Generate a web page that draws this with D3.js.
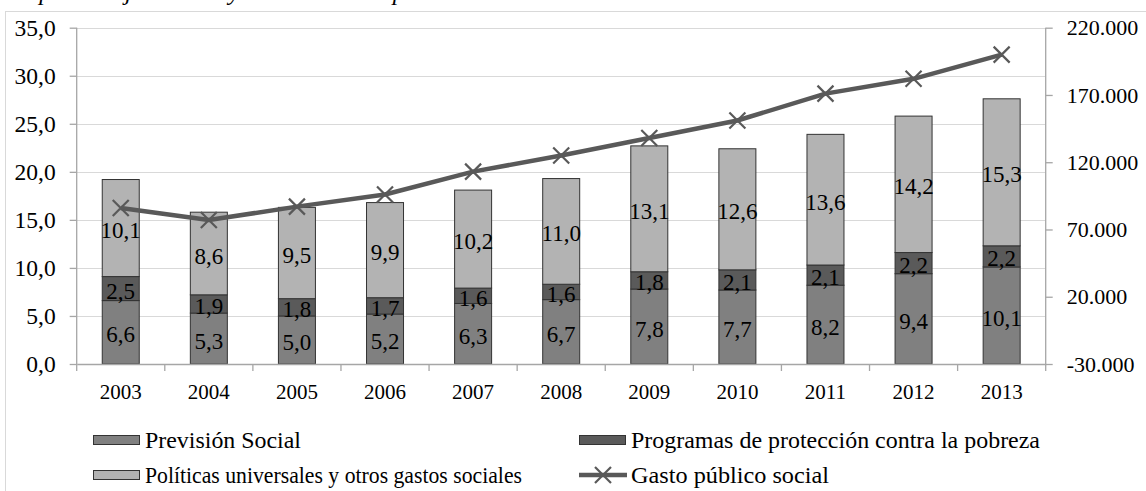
<!DOCTYPE html>
<html><head><meta charset="utf-8">
<script src="https://cdn.jsdelivr.net/npm/d3@7"></script>
<style>body{margin:0;background:#fff}svg{display:block}text{font-family:"Liberation Serif","Times New Roman",serif;fill:#000}</style>
</head><body><svg id="c" width="1146" height="491"></svg>
<script>
const years = ["2003","2004","2005","2006","2007","2008","2009","2010","2011","2012","2013"];
const prevision = [6.6,5.3,5.0,5.2,6.3,6.7,7.8,7.7,8.2,9.4,10.1];
const programas = [2.5,1.9,1.8,1.7,1.6,1.6,1.8,2.1,2.1,2.2,2.2];
const politicas = [10.1,8.6,9.5,9.9,10.2,11.0,13.1,12.6,13.6,14.2,15.3];
const gasto = [86000,77000,87000,96000,113000,125000,138000,151000,171000,182000,200000];
const leftTicks = [0,5,10,15,20,25,30,35];
const rightTicks = [-30000,20000,70000,120000,170000,220000];
const seriesNames = ["Previsión Social","Programas de protección contra la pobreza","Políticas universales y otros gastos sociales","Gasto público social"];
const colors = ["#808080","#5a5a5a","#b3b3b3"];
const lineColor = "#595959";

const svg = d3.select("#c");
const L = 76.7, R = 1045.7, T = 27.7, B = 364;
const x = d3.scaleBand().domain(years).range([L,R]).paddingInner(0.58).paddingOuter(0.29);
const y = d3.scaleLinear().domain([0,35]).range([B,T]);
const y2 = d3.scaleLinear().domain([-30000,220000]).range([B,T]);
const fmtL = d => d3.format(".1f")(d).replace(".",",");
const fmtR = d => d3.format(",")(d).replace(/,/g,".").replace("\u2212","-");

// title (cut off at top, as in the source)
svg.append("text").attr("x",6).attr("y",0).attr("font-style","italic").attr("font-size",23)
  .attr("textLength",525).attr("lengthAdjust","spacingAndGlyphs")
  .text("En porcentaje del PIB y en millones de pesos de 2013");
// frame
svg.append("rect").attr("x",5.5).attr("y",11.5).attr("width",1200).attr("height",600).attr("fill","none").attr("stroke","#d9d9d9");

// gridlines
svg.append("g").selectAll("line").data(leftTicks.filter(d=>d>0)).join("line")
  .attr("x1",L).attr("x2",R).attr("y1",d=>Math.round(y(d))+0.5).attr("y2",d=>Math.round(y(d))+0.5)
  .attr("stroke","#d9d9d9");

// stacked bars
const rows = years.map((yr,i)=>({year:yr, prevision:prevision[i], programas:programas[i], politicas:politicas[i]}));
const keys = ["prevision","programas","politicas"];
const stack = d3.stack().keys(keys)(rows);
stack.forEach((s,k)=>{
  svg.append("g").selectAll("rect").data(s).join("rect")
    .attr("x",d=>x(d.data.year)).attr("width",x.bandwidth())
    .attr("y",d=>y(d[1])).attr("height",d=>y(d[0])-y(d[1]))
    .attr("fill",colors[k]).attr("stroke","#333").attr("stroke-width",1);
});

// axes
const axL = d3.axisLeft(y).tickValues(leftTicks).tickFormat(fmtL).tickSize(7).tickPadding(14);
const gL = svg.append("g").attr("transform",`translate(${L},0)`).call(axL);
const axR = d3.axisRight(y2).tickValues(rightTicks).tickFormat(fmtR).tickSize(7).tickPadding(14);
const gR = svg.append("g").attr("transform",`translate(${R},0)`).call(axR);
const axB = d3.axisBottom(x).tickSize(0).tickPadding(20);
const gB = svg.append("g").attr("transform",`translate(0,${B})`).call(axB);
[gL,gR,gB].forEach(g=>{
  g.select(".domain").attr("stroke","#a6a6a6").attr("stroke-width",1.3);
  g.selectAll(".tick line").attr("stroke","#a6a6a6").attr("stroke-width",1.3);
  g.selectAll("text").attr("font-family",'"Liberation Serif",serif').attr("fill","#000");
});
gL.selectAll("text").attr("font-size",23.5);
gR.selectAll("text").attr("font-size",22);
gB.selectAll("text").attr("font-size",21);
gL.select(".domain").attr("d",`M0,${T}V${B}`);
gR.select(".domain").attr("d",`M0,${T}V${B}`);
// category boundary ticks
const bounds = years.slice(1).map(yr=>x(yr)-x.step()*x.paddingInner()/2);
svg.append("g").selectAll("line").data(bounds.concat([L,R])).join("line")
  .attr("x1",d=>d).attr("x2",d=>d).attr("y1",B).attr("y2",B+7)
  .attr("stroke","#a6a6a6").attr("stroke-width",1.3);

// data labels
stack.forEach((s,k)=>{
  svg.append("g").selectAll("text").data(s).join("text")
    .attr("x",d=>x(d.data.year)+x.bandwidth()/2)
    .attr("y",d=>(y(d[0])+y(d[1]))/2+2)
    .attr("dy","0.35em").attr("text-anchor","middle").attr("font-size",23)
    .text(d=>fmtL(d.data[keys[k]]));
});

// line
const cx = (d,i)=>x(years[i])+x.bandwidth()/2;
svg.append("path").datum(gasto)
  .attr("d",d3.line().x(cx).y(d=>y2(d)))
  .attr("fill","none").attr("stroke",lineColor).attr("stroke-width",4.5).attr("stroke-linejoin","round");
const m = 8;
svg.append("g").selectAll("path").data(gasto).join("path")
  .attr("d",(d,i)=>{const px=cx(d,i), py=y2(d); return `M${px-m},${py-m}L${px+m},${py+m}M${px-m},${py+m}L${px+m},${py-m}`;})
  .attr("stroke",lineColor).attr("stroke-width",2.2).attr("fill","none");

// legend
const leg = [
  {name:seriesNames[0], type:"rect", c:colors[0], x:93, y:440, w:156},
  {name:seriesNames[1], type:"rect", c:colors[1], x:579, y:440, w:409},
  {name:seriesNames[2], type:"rect", c:colors[2], x:93, y:475, w:377},
  {name:seriesNames[3], type:"line", c:lineColor, x:579, y:475, w:198}
];
leg.forEach(l=>{
  const g = svg.append("g");
  if(l.type==="rect"){
    g.append("rect").attr("x",l.x+0.5).attr("y",l.y-4.5).attr("width",46).attr("height",9).attr("fill",l.c).attr("stroke","#333");
  } else {
    g.append("line").attr("x1",l.x).attr("x2",l.x+48).attr("y1",l.y).attr("y2",l.y).attr("stroke",l.c).attr("stroke-width",4.5);
    const px=l.x+24, py=l.y;
    g.append("path").attr("d",`M${px-m},${py-m}L${px+m},${py+m}M${px-m},${py+m}L${px+m},${py-m}`).attr("stroke",l.c).attr("stroke-width",2.2);
  }
  g.append("text").attr("x",l.x+52).attr("y",l.y+8).attr("font-size",22.5)
    .attr("textLength",l.w).attr("lengthAdjust","spacingAndGlyphs").text(l.name);
});
</script></body></html>
